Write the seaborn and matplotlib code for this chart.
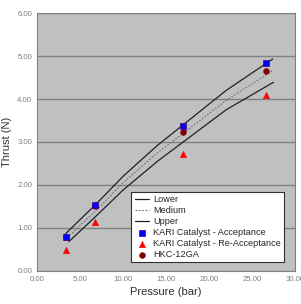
import pandas as pd
import matplotlib
matplotlib.use('Agg')
import matplotlib.pyplot as plt
import seaborn as sns

# Fit curves
lower_x = [3.7, 7.0, 10.0, 14.0, 17.0, 22.0, 27.5]
lower_y = [0.68, 1.30, 1.88, 2.55, 3.00, 3.75, 4.39]
medium_x = [3.5, 7.0, 10.0, 14.0, 17.0, 22.0, 27.5]
medium_y = [0.77, 1.43, 2.05, 2.75, 3.20, 3.97, 4.67]
upper_x = [3.3, 7.0, 10.0, 14.0, 17.0, 22.0, 27.4]
upper_y = [0.86, 1.58, 2.20, 2.92, 3.40, 4.20, 4.93]

# Measured points
pressure = [3.4, 6.8, 17.0, 26.6]
kari_acc = [0.78, 1.53, 3.37, 4.83]
kari_reacc = [0.49, 1.14, 2.72, 4.09]
hkc = [0.78, 1.52, 3.24, 4.66]

sns.set_style('white')
plt.rcParams['font.family'] = ['Liberation Sans', 'DejaVu Sans']

fig = plt.figure(figsize=(3.01, 3.04), dpi=100)
ax = fig.add_axes([0.123, 0.109, 0.857, 0.848])
ax.set_facecolor('#C0C0C0')

sns.lineplot(x=lower_x, y=lower_y, ax=ax, color='#202020', lw=0.9, label='Lower')
sns.lineplot(x=medium_x, y=medium_y, ax=ax, color='#6a6a8a', lw=0.8, ls=(0, (1.5, 1.5)), label='Medium')
sns.lineplot(x=upper_x, y=upper_y, ax=ax, color='#202020', lw=0.9, label='Upper')
sns.scatterplot(x=pressure, y=kari_acc, ax=ax, marker='s', s=22, color='#0000FF',
                edgecolor='#4b0082', linewidth=0.5, label='KARI Catalyst - Acceptance', zorder=5)
sns.scatterplot(x=pressure, y=kari_reacc, ax=ax, marker='^', s=22, color='#FF0000',
                edgecolor='#FF0000', linewidth=0.3, label='KARI Catalyst - Re-Acceptance', zorder=5)
sns.scatterplot(x=pressure, y=hkc, ax=ax, marker='o', s=18, color='#800000',
                edgecolor='#800000', linewidth=0.3, label='HKC-12GA', zorder=4)

ax.set_xlim(0, 30)
ax.set_ylim(0, 6)
ax.set_xticks([0, 5, 10, 15, 20, 25, 30])
ax.set_yticks([0, 1, 2, 3, 4, 5, 6])
ax.set_xticklabels(['%.2f' % v for v in [0, 5, 10, 15, 20, 25, 30]])
ax.set_yticklabels(['%.2f' % v for v in [0, 1, 2, 3, 4, 5, 6]])
ax.tick_params(labelsize=5.6, colors='#808080', labelcolor='#808080', length=2, width=0.6, direction='in')
ax.yaxis.grid(True, color='#808080', lw=1.0)
ax.set_axisbelow(True)
for s in ax.spines.values():
    s.set_color('#808080')
    s.set_linewidth(0.8)

ax.set_xlabel('Pressure (bar)', fontsize=8, color='#303030', labelpad=3)
ax.set_ylabel('Thrust (N)', fontsize=8, color='#303030', labelpad=4)

leg = ax.legend(loc='lower right', fontsize=6.6, frameon=True, fancybox=False,
                borderpad=0.35, labelspacing=0.22, handlelength=1.6, handletextpad=0.4,
                bbox_to_anchor=(0.975, 0.015))
leg.get_frame().set_edgecolor('#303030')
leg.get_frame().set_linewidth(0.8)
leg.get_frame().set_facecolor('white')
leg.get_frame().set_alpha(1)

fig.savefig('out.png', dpi=100)
